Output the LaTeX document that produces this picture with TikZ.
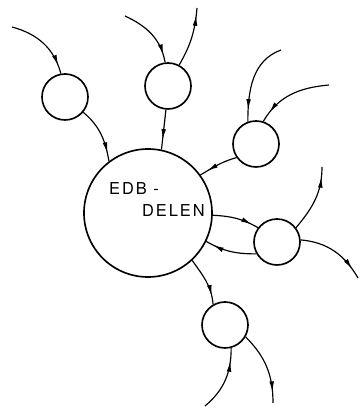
\documentclass[tikz,border=0pt]{standalone}
\usepackage{fontspec}
\usepackage{tikz}
\usetikzlibrary{arrows.meta,decorations.markings}
\newfontfamily\letterfont[LetterSpace=12]{TeX Gyre Heros}
\tikzset{bignode/.style={draw,circle,line width=1.4pt,inner sep=0pt,minimum size=3.84cm},
  smallnode/.style={draw,circle,line width=1.4pt,inner sep=0pt,minimum size=1.38cm},
  flow/.style={line width=1pt,postaction={decorate},
    decoration={markings,mark=at position #1 with {\arrow{Latex[length=9pt,width=4pt]}}}},
  flow/.default=0.85}

\begin{document}
\begin{tikzpicture}[x=0.03cm,y=0.03cm]
    \useasboundingbox (0,0) rectangle (364,412);

    \node[bignode] (edb) at (148,199) {};
    \node[font=\letterfont\fontsize{14}{16}\selectfont,anchor=west] (edbtop) at (105,223) {EDB -};
    \node[font=\letterfont\fontsize{14}{16}\selectfont,anchor=west] (edbbot) at (138,201) {DELEN};

    \node[smallnode] (c1) at (65,315) {};
    \node[smallnode] (c2) at (168,326) {};
    \node[smallnode] (c3) at (256,268) {};
    \node[smallnode] (c4) at (277,170) {};
    \node[smallnode] (c5) at (225,87) {};

    \coordinate (a) at (12,385);
    \coordinate (b) at (125,396);
    \coordinate (d) at (197,404);
    \coordinate (e) at (281,362);
    \coordinate (f) at (329,327);
    \coordinate (g) at (322,245);
    \coordinate (h) at (358,134);
    \coordinate (i) at (205,6);
    \coordinate (j) at (273,9);

    \draw[flow=0.88] (a) to[out=-15,in=105] (c1.100);
    \draw[flow=0.85] (c1.-40) to[out=-40,in=100] (edb.127);

    \draw[flow=0.88] (b) to[out=-25,in=100] (c2.97);
    \draw[flow=0.88] (c2.62) to[out=60,in=-95] (d);
    \draw[flow=0.75] (c2.265) -- (edb.78);

    \draw[flow=0.86] (e) to[out=200,in=90] (c3.110);
    \draw[flow=0.86] (f) to[out=185,in=60] (c3.72);
    \draw[flow=0.8] (c3.215) to[out=195,in=30] (edb.36);

    \draw[flow=0.85] (edb.-2) to[out=-3,in=150] (c4.143);
    \draw[flow=0.85] (c4.210) to[out=180,in=-30] (edb.-26);
    \draw[flow=0.85] (c4.37) to[out=50,in=-90] (g);
    \draw[flow=0.85] (c4.5) to[out=-5,in=120] (h);

    \draw[flow=0.82] (edb.-47) to[out=-55,in=95] (c5.120);
    \draw[flow=0.8] (i) to[out=40,in=-90] (c5.-75);
    \draw[flow=0.85] (c5.-30) to[out=-45,in=90] (j);
\end{tikzpicture}
\end{document}
